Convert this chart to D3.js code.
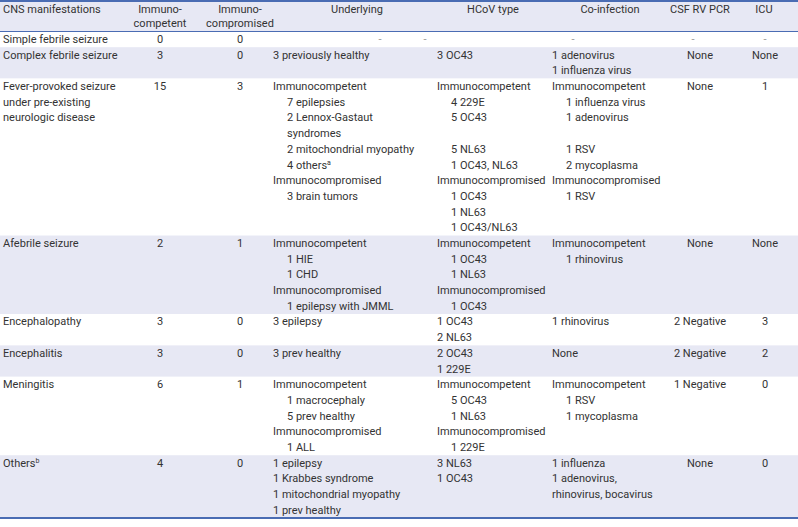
<!DOCTYPE html>
<html>
<head>
<meta charset="utf-8">
<script src="https://cdn.jsdelivr.net/npm/d3@7"></script>
<style>
  body { margin: 0; background: #fff; }
  svg text { font-family: Roboto, "Noto Sans", sans-serif; font-size: 11px; fill: #333; }
</style>
</head>
<body>
<div id="chart"></div>
<script>
// column headers (each entry = header lines)
var headers = [["CNS manifestations"], ["Immuno-", "competent"], ["Immuno-", "compromised"],
    ["Underlying"], ["HCoV type"], ["Co-infection"], ["CSF RV PCR"], ["ICU"]];

// rows: one entry per CNS manifestation, lines per cell ("  " = indented, "^x" = superscript)
var manifestations = [
    ["Simple febrile seizure"],
    ["Complex febrile seizure"],
    ["Fever-provoked seizure", "under pre-existing", "neurologic disease"],
    ["Afebrile seizure"],
    ["Encephalopathy"],
    ["Encephalitis"],
    ["Meningitis"],
    ["Others^b"]
];
var immunocompetent = [0, 3, 15, 2, 3, 3, 6, 4];
var immunocompromised = [0, 0, 3, 1, 0, 0, 1, 0];
var underlying = [
    ["-"],
    ["3 previously healthy"],
    ["Immunocompetent", "  7 epilepsies", "  2 Lennox-Gastaut", "  syndromes", "  2 mitochondrial myopathy",
     "  4 others^a", "Immunocompromised", "  3 brain tumors"],
    ["Immunocompetent", "  1 HIE", "  1 CHD", "Immunocompromised", "  1 epilepsy with JMML"],
    ["3 epilepsy"],
    ["3 prev healthy"],
    ["Immunocompetent", "  1 macrocephaly", "  5 prev healthy", "Immunocompromised", "  1 ALL"],
    ["1 epilepsy", "1 Krabbes syndrome", "1 mitochondrial myopathy", "1 prev healthy"]
];
var hcovType = [
    ["-"],
    ["3 OC43"],
    ["Immunocompetent", "  4 229E", "  5 OC43", "", "  5 NL63", "  1 OC43, NL63", "Immunocompromised",
     "  1 OC43", "  1 NL63", "  1 OC43/NL63"],
    ["Immunocompetent", "  1 OC43", "  1 NL63", "Immunocompromised", "  1 OC43"],
    ["1 OC43", "2 NL63"],
    ["2 OC43", "1 229E"],
    ["Immunocompetent", "  5 OC43", "  1 NL63", "Immunocompromised", "  1 229E"],
    ["3 NL63", "1 OC43"]
];
var coInfection = [
    ["-"],
    ["1 adenovirus", "1 influenza virus"],
    ["Immunocompetent", "  1 influenza virus", "  1 adenovirus", "", "  1 RSV", "  2 mycoplasma",
     "Immunocompromised", "  1 RSV"],
    ["Immunocompetent", "  1 rhinovirus"],
    ["1 rhinovirus"],
    ["None"],
    ["Immunocompetent", "  1 RSV", "  1 mycoplasma"],
    ["1 influenza", "1 adenovirus,", "rhinovirus, bocavirus"]
];
var csfRvPcr = ["-", "None", "None", "None", "2 Negative", "2 Negative", "1 Negative", "None"];
var icu = ["-", "None", "1", "None", "3", "2", "0", "0"];

var width = 798, height = 527;
var headerH = 31.5, tableBottom = 518, indent = 14;
var lineColor = "#4a6cb3", shade = "#e7e8f4";

// column layout: content x / anchor, header x / anchor, dash x
var cols = [
    {x: 3, anchor: "start", hx: 3, hanchor: "start", dx: 3},
    {x: 160, anchor: "middle", hx: 160, hanchor: "middle", dx: 160},
    {x: 240, anchor: "middle", hx: 240, hanchor: "middle", dx: 240},
    {x: 273, anchor: "start", hx: 357, hanchor: "middle", dx: 380},
    {x: 437, anchor: "start", hx: 493, hanchor: "middle", dx: 425},
    {x: 552, anchor: "start", hx: 610, hanchor: "middle", dx: 573},
    {x: 700, anchor: "middle", hx: 700, hanchor: "middle", dx: 693},
    {x: 765, anchor: "middle", hx: 764, hanchor: "middle", dx: 765}
];

// build table rows from the arrays
var rows = manifestations.map(function (m, i) {
    var cells = [m, [String(immunocompetent[i])], [String(immunocompromised[i])],
        underlying[i], hcovType[i], coInfection[i], [csfRvPcr[i]], [icu[i]]];
    return {cells: cells, n: d3.max(cells, function (c) { return c.length; })};
});
var offsets = [0];
rows.forEach(function (r, i) { offsets.push(offsets[i] + r.n); });
var totalLines = offsets[offsets.length - 1];

// line index -> y
var y = d3.scaleLinear().domain([0, totalLines]).range([headerH, tableBottom]);

var svg = d3.select("#chart").append("svg")
    .attr("width", width)
    .attr("height", height);

// header background + alternating row shading
svg.append("rect").attr("x", 0).attr("y", 0).attr("width", width).attr("height", headerH).attr("fill", shade);
svg.selectAll("rect.row")
    .data(rows)
    .enter().append("rect")
    .attr("class", "row")
    .attr("x", 0)
    .attr("y", function (d, i) { return y(offsets[i]); })
    .attr("width", width)
    .attr("height", function (d, i) { return y(offsets[i + 1]) - y(offsets[i]); })
    .attr("fill", function (d, i) { return i % 2 === 1 ? shade : "#fff"; });

// header text
headers.forEach(function (h, c) {
    svg.append("text")
        .attr("text-anchor", cols[c].hanchor)
        .selectAll("tspan")
        .data(h)
        .enter().append("tspan")
        .attr("x", cols[c].hx)
        .attr("y", function (d, k) { return 12.5 + k * 14.5; })
        .text(function (d) { return d; });
});

function writeLine(sel, s) {
    var parts = s.split("^");
    sel.append("tspan").text(parts[0]);
    if (parts[1]) {
        sel.append("tspan").attr("dy", -4).style("font-size", "7px").text(parts[1]);
    }
}

// cell text
rows.forEach(function (r, i) {
    r.cells.forEach(function (cell, c) {
        cell.forEach(function (line, k) {
            if (line === "") return;
            var col = cols[c], isIndent = line.indexOf("  ") === 0, s = line.trim();
            var x = s === "-" ? col.dx : col.x + (isIndent ? indent : 0);
            var t = svg.append("text")
                .attr("x", x)
                .attr("y", y(offsets[i] + k) + 11.5)
                .attr("text-anchor", s === "-" ? "middle" : col.anchor);
            if (s === "-") t.style("fill", "#999");
            writeLine(t, s);
        });
    });
});

// rules
svg.append("line").attr("x1", 0).attr("x2", width).attr("y1", 1).attr("y2", 1)
    .attr("stroke", lineColor).attr("stroke-width", 2);
svg.append("line").attr("x1", 0).attr("x2", width).attr("y1", headerH).attr("y2", headerH)
    .attr("stroke", lineColor).attr("stroke-width", 1);
svg.append("line").attr("x1", 0).attr("x2", width).attr("y1", tableBottom).attr("y2", tableBottom)
    .attr("stroke", lineColor).attr("stroke-width", 2);
</script>
</body>
</html>
